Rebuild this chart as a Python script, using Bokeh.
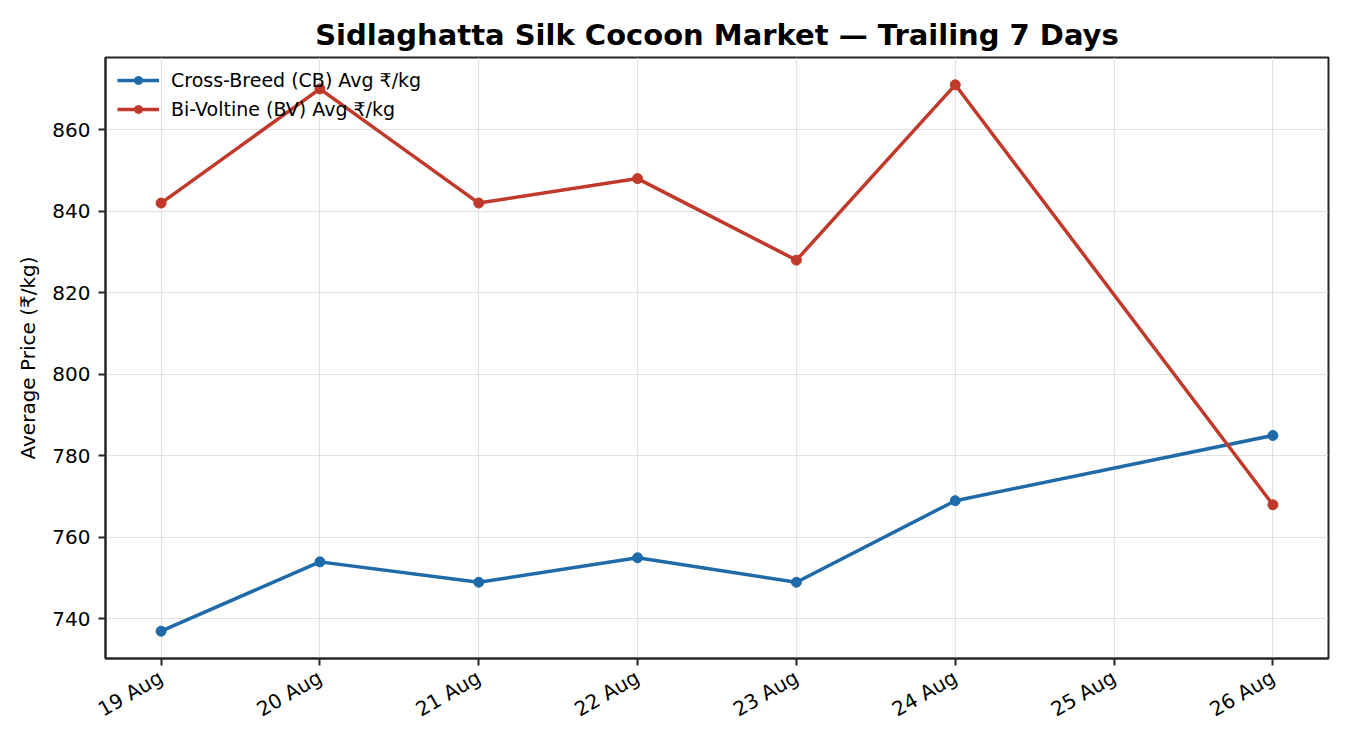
import math
from datetime import date
from bokeh.plotting import figure
from bokeh.models import FixedTicker, Legend, LegendItem, Range1d
from bokeh.embed import file_html
from bokeh.resources import INLINE

# ---- data ----
dates = ["2025-08-19", "2025-08-20", "2025-08-21", "2025-08-22", "2025-08-23", "2025-08-24", "2025-08-26"]
cb_avg = [737, 754, 749, 755, 749, 769, 785]
bv_avg = [842, 870, 842, 848, 828, 871, 768]
tick_labels = ["19 Aug", "20 Aug", "21 Aug", "22 Aug", "23 Aug", "24 Aug", "25 Aug", "26 Aug"]
y_ticks = [740, 760, 780, 800, 820, 840, 860]

base = date.fromisoformat(dates[0])
xs = [(date.fromisoformat(d) - base).days for d in dates]

FONT = "DejaVu Sans"
BLUE = "#1f6aa8"
RED = "#c0392b"
DARK = "#262626"

p = figure(frame_width=1223, frame_height=601, output_backend="svg", toolbar_location=None,
           title="Sidlaghatta Silk Cocoon Market \u2014 Trailing 7 Days",
           min_border_left=105, min_border_right=6, min_border_top=57, min_border_bottom=70)

n = len(tick_labels) - 1
p.x_range = Range1d(-0.05 * n, n + 0.05 * n)
allv = cb_avg + bv_avg
lo, hi = min(allv), max(allv)
pad = 0.05 * (hi - lo)
p.y_range = Range1d(lo - pad, hi + pad)

p.title.text_font = FONT
p.title.text_font_size = "29px"
p.title.text_font_style = "bold"
p.title.align = "center"
p.title.text_color = "black"
p.title.standoff = 11

p.xaxis.ticker = FixedTicker(ticks=list(range(len(tick_labels))))
p.xaxis.major_label_overrides = {i: t for i, t in enumerate(tick_labels)}
p.xaxis.major_label_orientation = math.pi / 6
p.yaxis.ticker = FixedTicker(ticks=y_ticks)
p.yaxis.axis_label = "Average Price (\u20b9/kg)"

for ax in (p.xaxis[0], p.yaxis[0]):
    ax.major_label_text_font = FONT
    ax.major_label_text_font_size = "20px"
    ax.major_label_text_color = "black"
    ax.axis_label_text_font = FONT
    ax.axis_label_text_font_size = "20px"
    ax.axis_label_text_font_style = "normal"
    ax.axis_label_text_color = "black"
    ax.axis_line_color = DARK
    ax.axis_line_width = 2
    ax.major_tick_line_color = DARK
    ax.major_tick_line_width = 2
    ax.major_tick_in = 0
    ax.major_tick_out = 7
    ax.minor_tick_line_color = None
p.xaxis.major_label_standoff = 10
p.yaxis.major_label_standoff = 8
p.yaxis.axis_label_standoff = 9

p.outline_line_color = DARK
p.outline_line_width = 2
p.grid.grid_line_color = "#d9d9d9"
p.grid.grid_line_alpha = 0.8
p.grid.grid_line_width = 1.2

l1 = p.line(xs, cb_avg, line_color=BLUE, line_width=3.5)
s1 = p.scatter(xs, cb_avg, size=10, fill_color=BLUE, line_color=BLUE)
l2 = p.line(xs, bv_avg, line_color=RED, line_width=3.5)
s2 = p.scatter(xs, bv_avg, size=10, fill_color=RED, line_color=RED)

legend = Legend(items=[
    LegendItem(label="Cross-Breed (CB) Avg \u20b9/kg", renderers=[l1, s1]),
    LegendItem(label="Bi-Voltine (BV) Avg \u20b9/kg", renderers=[l2, s2]),
], location="top_left")
legend.label_text_font = FONT
legend.label_text_font_size = "19px"
legend.label_text_color = "black"
legend.background_fill_alpha = 0
legend.border_line_color = None
legend.glyph_width = 42
legend.label_standoff = 12
legend.spacing = 7
legend.padding = 4
legend.margin = 12
p.add_layout(legend)

open("out.html", "w").write(file_html(p, INLINE))
